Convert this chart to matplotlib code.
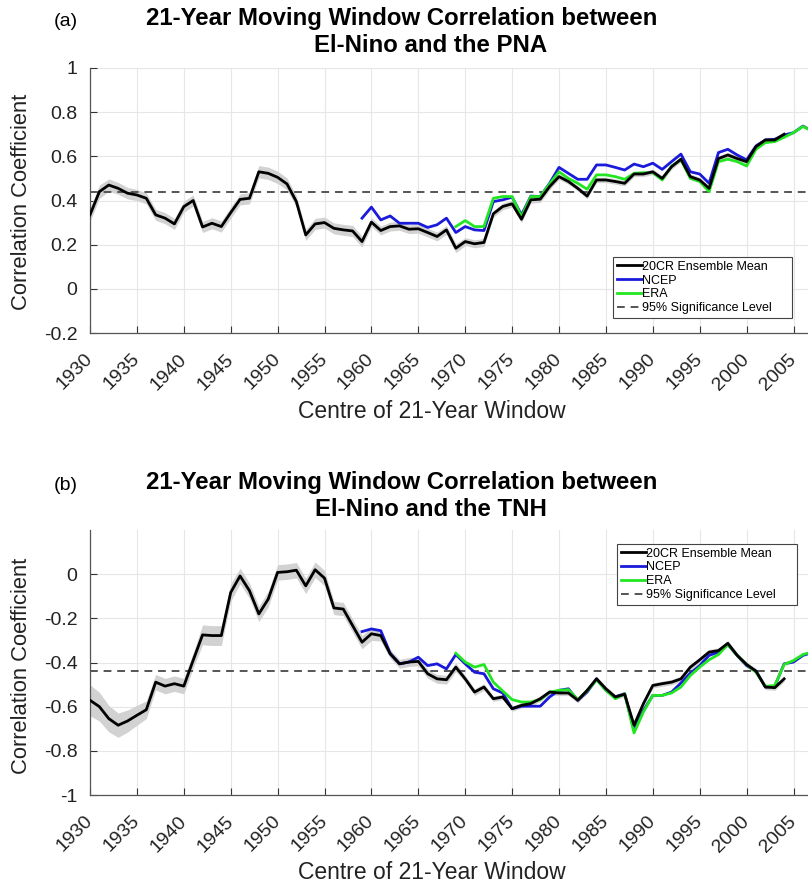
import matplotlib
matplotlib.use('Agg')
import matplotlib.pyplot as plt
import numpy as np

plt.rcParams['font.family'] = ['Liberation Sans', 'DejaVu Sans']
plt.rcParams['axes.unicode_minus'] = False

# ---- panel (a): El-Nino vs PNA ----
years_20cr = list(range(1930, 2005))
years_ncep = list(range(1959, 2008))
years_era = list(range(1969, 2008))

pna_20cr = [0.335, 0.44, 0.47, 0.455, 0.433, 0.425, 0.41, 0.335, 0.32, 0.294,
            0.372, 0.40, 0.28, 0.297, 0.282, 0.345, 0.405, 0.41, 0.53, 0.523,
            0.505, 0.475, 0.395, 0.244, 0.294, 0.30, 0.274, 0.267, 0.262, 0.214,
            0.302, 0.264, 0.282, 0.285, 0.27, 0.272, 0.255, 0.237, 0.267, 0.184,
            0.214, 0.204, 0.21, 0.34, 0.373, 0.385, 0.315, 0.403, 0.406, 0.463,
            0.508, 0.486, 0.455, 0.42, 0.493, 0.493, 0.486, 0.478, 0.52, 0.52,
            0.53, 0.50, 0.553, 0.587, 0.508, 0.493, 0.455, 0.59, 0.606, 0.59,
            0.576, 0.644, 0.674, 0.674, 0.70]
pna_spread = [0.03, 0.03, 0.028, 0.027, 0.026, 0.025, 0.025, 0.025, 0.025, 0.025,
              0.025, 0.025, 0.025, 0.025, 0.025, 0.025, 0.025, 0.025, 0.028, 0.028,
              0.028, 0.027, 0.026, 0.025, 0.025, 0.025, 0.025, 0.025, 0.025, 0.025,
              0.02, 0.02, 0.02, 0.02, 0.02, 0.02, 0.02, 0.02, 0.02, 0.02,
              0.018, 0.018, 0.018, 0.015, 0.015, 0.015, 0.015, 0.015, 0.015, 0.015,
              0.012, 0.012, 0.012, 0.012, 0.012, 0.012, 0.012, 0.012, 0.012, 0.012,
              0.012, 0.012, 0.012, 0.012, 0.012, 0.012, 0.012, 0.012, 0.012, 0.012,
              0.012, 0.012, 0.012, 0.012, 0.012]
pna_ncep = [0.32, 0.37, 0.312, 0.33, 0.297, 0.297, 0.297, 0.278, 0.29, 0.32,
            0.255, 0.282, 0.267, 0.264, 0.395, 0.403, 0.415, 0.335, 0.42, 0.418,
            0.478, 0.55, 0.523, 0.496, 0.496, 0.561, 0.561, 0.55, 0.538, 0.565,
            0.553, 0.569, 0.541, 0.576, 0.61, 0.53, 0.52, 0.478, 0.617, 0.632,
            0.606, 0.584, 0.647, 0.674, 0.677, 0.697, 0.707, 0.737, 0.715]
pna_era = [0.282, 0.309, 0.282, 0.282, 0.41, 0.418, 0.418, 0.327, 0.418, 0.418,
           0.475, 0.53, 0.50, 0.478, 0.451, 0.516, 0.516, 0.508, 0.496, 0.523,
           0.526, 0.526, 0.493, 0.556, 0.584, 0.50, 0.486, 0.44, 0.576, 0.587,
           0.576, 0.556, 0.632, 0.662, 0.667, 0.686, 0.707, 0.735, 0.715]
pna_sig = 0.44

# ---- panel (b): El-Nino vs TNH ----
tnh_20cr = [-0.571, -0.60, -0.654, -0.684, -0.665, -0.639, -0.614, -0.489, -0.507, -0.496,
            -0.507, -0.39, -0.275, -0.278, -0.278, -0.083, -0.008, -0.075, -0.18, -0.113,
            0.008, 0.011, 0.018, -0.053, 0.02, -0.018, -0.153, -0.158, -0.233, -0.308,
            -0.27, -0.278, -0.361, -0.406, -0.398, -0.395, -0.451, -0.474, -0.478, -0.421,
            -0.474, -0.534, -0.511, -0.564, -0.556, -0.609, -0.594, -0.586, -0.564, -0.534,
            -0.538, -0.538, -0.571, -0.526, -0.474, -0.519, -0.556, -0.544, -0.684, -0.586,
            -0.504, -0.496, -0.489, -0.474, -0.421, -0.388, -0.353, -0.346, -0.313, -0.368,
            -0.409, -0.439, -0.511, -0.514, -0.474]
tnh_spread = [0.07, 0.065, 0.06, 0.055, 0.05, 0.045, 0.04, 0.035, 0.035, 0.035,
              0.035, 0.035, 0.045, 0.045, 0.045, 0.04, 0.035, 0.035, 0.035, 0.035,
              0.035, 0.035, 0.035, 0.035, 0.035, 0.035, 0.03, 0.03, 0.03, 0.03,
              0.03, 0.025, 0.02, 0.02, 0.02, 0.02, 0.02, 0.02, 0.02, 0.02,
              0.015, 0.015, 0.015, 0.012, 0.012, 0.012, 0.012, 0.012, 0.012, 0.012,
              0.012, 0.012, 0.012, 0.012, 0.012, 0.012, 0.012, 0.012, 0.012, 0.012,
              0.012, 0.012, 0.012, 0.012, 0.012, 0.012, 0.012, 0.012, 0.012, 0.012,
              0.012, 0.012, 0.012, 0.012, 0.012]
tnh_ncep = [-0.26, -0.248, -0.256, -0.358, -0.406, -0.398, -0.376, -0.414, -0.406, -0.429,
            -0.364, -0.406, -0.444, -0.451, -0.519, -0.538, -0.609, -0.598, -0.598, -0.598,
            -0.556, -0.526, -0.519, -0.571, -0.534, -0.474, -0.526, -0.556, -0.541, -0.707,
            -0.617, -0.549, -0.549, -0.534, -0.493, -0.448, -0.414, -0.368, -0.353, -0.319,
            -0.368, -0.414, -0.439, -0.511, -0.508, -0.406, -0.398, -0.368, -0.355]
tnh_era = [-0.358, -0.398, -0.421, -0.409, -0.489, -0.529, -0.568, -0.579, -0.579, -0.568,
           -0.534, -0.526, -0.523, -0.568, -0.529, -0.478, -0.526, -0.564, -0.541, -0.719,
           -0.624, -0.549, -0.549, -0.538, -0.511, -0.459, -0.421, -0.388, -0.364, -0.319,
           -0.368, -0.409, -0.444, -0.508, -0.504, -0.409, -0.391, -0.364, -0.352]
tnh_sig = -0.44

xticks = list(range(1930, 2010, 5))
labels = ['20CR Ensemble Mean', 'NCEP', 'ERA', '95% Significance Level']

W, H = 808, 885
fig = plt.figure(figsize=(W / 100, H / 100), dpi=100)


def px(x, y):
    return x / W, 1 - y / H


def draw_panel(ax, mean, spread, ncep, era, sig, ylim, yticks, legend_box):
    lo = np.array(mean) - np.array(spread)
    hi = np.array(mean) + np.array(spread)
    ax.fill_between(years_20cr, lo, hi, color='#d2d2d2', lw=0, zorder=2)
    l1, = ax.plot(years_20cr, mean, color='black', lw=2.0, zorder=5)
    l2, = ax.plot(years_ncep, ncep, color='#1a1adb', lw=2.0, zorder=4)
    l3, = ax.plot(years_era, era, color='#22e622', lw=2.0, zorder=4)
    l4 = ax.axhline(sig, color='#555555', lw=1.4, ls=(0, (4, 3)), zorder=3)
    ax.set_xlim(1930, 1930 + (W - 90) / 9.38)
    ax.set_ylim(*ylim)
    ax.set_yticks(yticks)
    ax.set_yticklabels([('%g' % v) for v in yticks])
    ax.set_xticks(xticks)
    ax.set_xticklabels([str(v) for v in xticks], rotation=45, ha='right',
                       va='center', rotation_mode='anchor')
    ax.tick_params(direction='in', length=5, width=0.8, colors='#333333',
                   labelsize=14, labelcolor='#222222')
    ax.tick_params(axis='x', pad=17)
    ax.tick_params(axis='y', pad=9)
    ax.grid(True, color='#e6e6e6', lw=0.8)
    ax.set_axisbelow(True)
    for s in ['top', 'right']:
        ax.spines[s].set_visible(False)
    for s in ['left', 'bottom']:
        ax.spines[s].set_color('#555555')
        ax.spines[s].set_linewidth(0.9)
    leg = ax.legend([l1, l2, l3, l4], labels, loc='lower left',
                    bbox_to_anchor=legend_box, bbox_transform=fig.transFigure,
                    mode='expand', fontsize=9, handlelength=2.0,
                    handletextpad=0.05, borderpad=0.3, labelspacing=0.15,
                    fancybox=False, framealpha=1, edgecolor='#444444',
                    borderaxespad=0)
    leg.get_frame().set_linewidth(0.8)


# panel (a)
x0, y0 = px(90, 333)
x1, y1 = px(W, 68)
ax_a = fig.add_axes([x0, y0, x1 - x0, y1 - y0])
bx0, by0 = px(613, 318)
bx1, by1 = px(792, 252)
draw_panel(ax_a, pna_20cr, pna_spread, pna_ncep, pna_era, pna_sig,
           (-0.2, 1.0), [-0.2, 0, 0.2, 0.4, 0.6, 0.8, 1.0],
           (bx0, by0, bx1 - bx0, by1 - by0))

# panel (b)
x0, y0 = px(90, 795)
x1, y1 = px(W, 530)
ax_b = fig.add_axes([x0, y0, x1 - x0, y1 - y0])
bx0, by0 = px(617, 605)
bx1, by1 = px(797, 537)
draw_panel(ax_b, tnh_20cr, tnh_spread, tnh_ncep, tnh_era, tnh_sig,
           (-1.0, 0.2), [-1, -0.8, -0.6, -0.4, -0.2, 0],
           (bx0, by0, bx1 - bx0, by1 - by0))

# titles, panel letters, axis labels
for letter, tag, ytop, xlab_y in [('(a)', 'PNA', 0, 418), ('(b)', 'TNH', 464, 879)]:
    fig.text(*px(66, ytop + 22), letter, fontsize=14, ha='center', va='center')
    fig.text(*px(402, ytop + 18), '21-Year Moving Window Correlation between',
             fontsize=17.3, fontweight='bold', ha='center', va='center')
    fig.text(*px(431, ytop + 45), 'El-Nino and the ' + tag,
             fontsize=17.3, fontweight='bold', ha='center', va='center')
    fig.text(*px(432, xlab_y), 'Centre of 21-Year Window',
             fontsize=16.5, ha='center', va='baseline', color='#222222')
    fig.text(*px(22, ytop + 202), 'Correlation Coefficient', rotation=90,
             fontsize=15.8, ha='center', va='center', color='#222222')

fig.savefig('out.png', dpi=100)
